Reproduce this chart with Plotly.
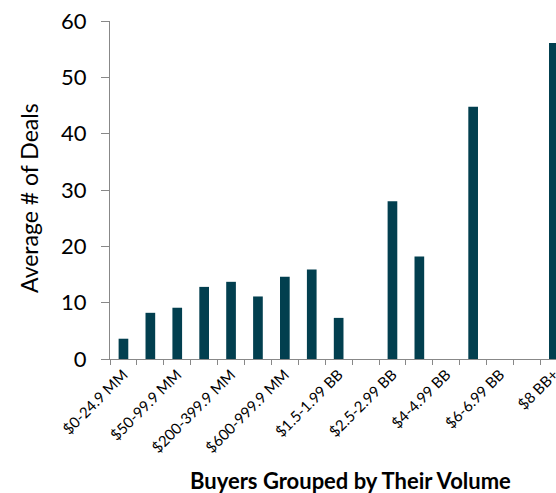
import plotly.graph_objects as go

categories = ["$0-24.9 MM", "$25-49.9 MM", "$50-99.9 MM", "$100-199.9 MM",
              "$200-399.9 MM", "$400-599.9 MM", "$600-999.9 MM", "$1-1.49 BB",
              "$1.5-1.99 BB", "$2-2.49 BB", "$2.5-2.99 BB", "$3-3.99 BB",
              "$4-4.99 BB", "$5-5.99 BB", "$6-6.99 BB", "$7-7.99 BB", "$8 BB+"]
avg_deals = [3.6, 8.2, 9.1, 12.8, 13.7, 11.1, 14.6, 15.9, 7.3, None, 28.0, 18.2,
             None, 44.8, None, None, 56.1]
tick_labels = [c if i % 2 == 0 else "" for i, c in enumerate(categories)]

BAR = "#023F4F"
AXIS = "#888888"
FONT = "Lato, Open Sans, sans-serif"

fig = go.Figure(go.Bar(
    x=categories, y=avg_deals,
    marker=dict(color=BAR, line=dict(width=0)),
    width=0.36,
))

fig.update_layout(
    width=556, height=493,
    margin=dict(l=110, r=0, t=21, b=134),
    paper_bgcolor="white", plot_bgcolor="white",
    showlegend=False,
    font=dict(family=FONT, color="#000000"),
    annotations=[
        dict(text="Average # of Deals", xref="paper", yref="paper",
             x=(29 - 110) / 446, y=(359 - 198) / 338, xanchor="center", yanchor="middle",
             textangle=-90, showarrow=False, font=dict(size=23, family=FONT)),
        dict(text="<b>Buyers Grouped by Their Volume</b>", xref="paper", yref="paper",
             x=(350 - 110) / 446, y=-(480 - 359) / 338, xanchor="center", yanchor="middle",
             showarrow=False, font=dict(size=22, family=FONT)),
    ],
)

fig.update_xaxes(
    type="category", range=[-0.5, 16.08],
    tickmode="array", tickvals=categories, ticktext=tick_labels,
    tickson="boundaries", ticks="outside", ticklen=5, tickcolor=AXIS,
    tickangle=-45, tickfont=dict(size=15, family=FONT),
    ticklabeloverflow="allow",
    showline=True, linecolor=AXIS, linewidth=1,
    showgrid=False, zeroline=False, automargin=False,
)
fig.update_yaxes(
    range=[0, 60], tickvals=[0, 10, 20, 30, 40, 50, 60],
    ticks="outside", ticklen=8, tickcolor=AXIS,
    tickfont=dict(size=22, family=FONT), ticklabelstandoff=10,
    ticklabeloverflow="allow",
    showline=True, linecolor=AXIS, linewidth=1,
    showgrid=False, zeroline=False, automargin=False,
)

fig.write_html(
    "out.html",
    config={"displayModeBar": False},
    post_script="document.body.style.margin='0';document.body.style.overflow='hidden';",
)
